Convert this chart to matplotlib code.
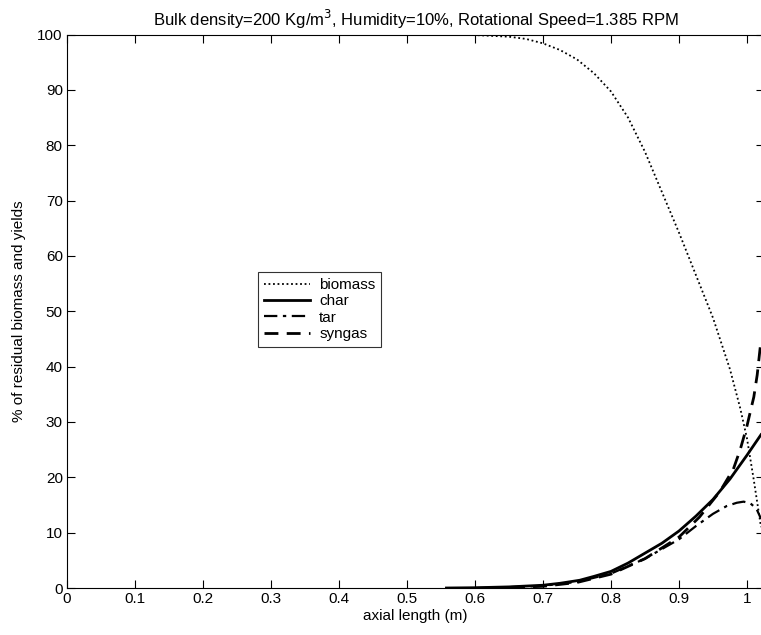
import matplotlib
matplotlib.use("Agg")
import matplotlib.pyplot as plt

plt.rcParams['font.family'] = ['Liberation Sans', 'DejaVu Sans']

# residual biomass (%)
biomass_x = [0.0, 0.55, 0.6, 0.65, 0.675, 0.7, 0.725, 0.75, 0.775, 0.8, 0.825, 0.85, 0.875, 0.9,
             0.925, 0.95, 0.975, 0.99, 1.0, 1.01, 1.0206]
biomass_y = [100, 100, 99.9, 99.6, 99.2, 98.4, 97.2, 95.5, 93.0, 89.7, 85.0, 78.8, 71.5, 64.2,
             56.5, 48.8, 39.5, 32.5, 27.0, 19.5, 11.0]

# char yield (%)
char_x = [0.558, 0.6, 0.65, 0.7, 0.725, 0.754, 0.775, 0.8, 0.825, 0.85, 0.875, 0.9, 0.925, 0.95,
          0.975, 1.0, 1.0206]
char_y = [0.0, 0.05, 0.2, 0.5, 0.85, 1.4, 2.1, 3.0, 4.5, 6.3, 8.1, 10.3, 13.0, 16.0,
          19.7, 24.0, 27.7]

# tar yield (%)
tar_x = [0.6, 0.65, 0.7, 0.75, 0.8, 0.85, 0.9, 0.925, 0.95, 0.97, 0.985, 0.995, 1.005, 1.014, 1.0206]
tar_y = [0.0, 0.1, 0.4, 1.1, 2.6, 5.3, 8.8, 11.2, 13.4, 14.8, 15.4, 15.6, 15.3, 14.3, 12.5]

# syngas yield (%)
syngas_x = [0.62, 0.7, 0.75, 0.8, 0.85, 0.9, 0.93, 0.96, 0.98, 0.99, 1.0, 1.01, 1.015, 1.0206]
syngas_y = [0.0, 0.3, 1.0, 2.5, 5.3, 9.2, 12.8, 17.4, 21.5, 25.0, 29.3, 34.5, 38.5, 44.8]

xticks = [0, 0.1, 0.2, 0.3, 0.4, 0.5, 0.6, 0.7, 0.8, 0.9, 1]
yticks = [0, 10, 20, 30, 40, 50, 60, 70, 80, 90, 100]

fig = plt.figure(figsize=(7.61, 6.35), dpi=100)
ax = fig.add_axes([67/761, 47/635, 697/761, 553.5/635])

ax.plot(biomass_x, biomass_y, color='black', linestyle=(0, (1, 1.5)), linewidth=1.3, label='biomass')
ax.plot(char_x, char_y, color='black', linestyle='-', linewidth=2.0, label='char')
ax.plot(tar_x, tar_y, color='black', linestyle=(0, (6, 2.5, 1.5, 2.5)), linewidth=1.6, label='tar')
ax.plot(syngas_x, syngas_y, color='black', linestyle=(0, (5, 3)), linewidth=2.0, label='syngas')

ax.set_xlim(0, 1.025)
ax.set_ylim(0, 100)
ax.set_xticks(xticks)
ax.set_xticklabels([f'{t:g}' for t in xticks])
ax.set_yticks(yticks)
ax.tick_params(direction='in', top=True, right=True, length=6, labelsize=11, pad=3)

ax.set_xlabel('axial length (m)', fontsize=11, labelpad=2)
ax.set_ylabel('% of residual biomass and yields', fontsize=11, labelpad=8)
ax.set_title('Bulk density=200 Kg/m$^3$, Humidity=10%, Rotational Speed=1.385 RPM', fontsize=12, pad=6)

leg = ax.legend(loc='upper left', bbox_to_anchor=(0.274, 0.571), fontsize=11, frameon=True,
                fancybox=False, edgecolor='black', handlelength=3.0, handletextpad=0.6,
                labelspacing=0.15, borderpad=0.4, borderaxespad=0)
leg.get_frame().set_linewidth(0.8)

fig.savefig('out.png', dpi=100)
